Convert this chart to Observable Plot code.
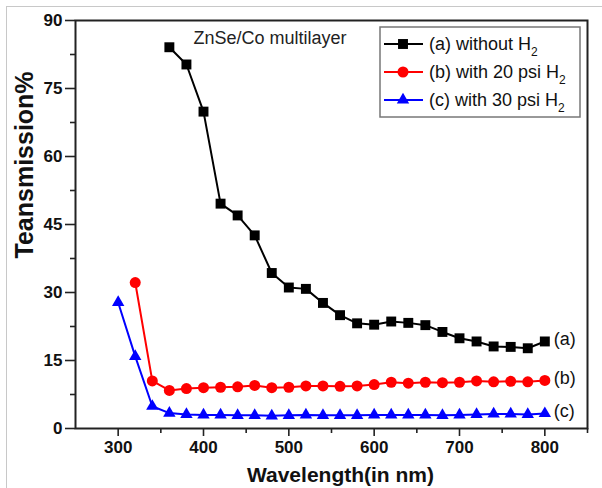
<!DOCTYPE html>
<html>
<head>
<meta charset="utf-8">
<script src="https://cdn.jsdelivr.net/npm/d3@7"></script>
<script src="https://cdn.jsdelivr.net/npm/@observablehq/plot@0.6"></script>
<style>
  body { margin: 0; background: #fff; }
  #wrap { position: relative; width: 602px; height: 488px; overflow: hidden; background: #fff; }
  #border { position: absolute; left: 6px; top: 6px; width: 620px; height: 520px; border-left: 1px solid #c8c8c8; border-top: 1px solid #c8c8c8; pointer-events: none; }
  #legend { position: absolute; left: 0; top: 0; pointer-events: none; }
</style>
</head>
<body>
<div id="wrap"><div id="border"></div></div>
<script>
// ---- data ----
const wavelengthA = [360,380,400,420,440,460,480,500,520,540,560,580,600,620,640,660,680,700,720,740,760,780,800];
const transA = [84.1,80.3,69.9,49.6,47.0,42.6,34.3,31.1,30.8,27.7,25.0,23.2,22.9,23.6,23.3,22.8,21.3,19.9,19.2,18.1,18.0,17.7,19.2];

const wavelengthB = [320,340,360,380,400,420,440,460,480,500,520,540,560,580,600,620,640,660,680,700,720,740,760,780,800];
const transB = [32.2,10.5,8.4,8.8,9.0,9.1,9.2,9.5,9.0,9.1,9.4,9.4,9.3,9.4,9.7,10.2,10.0,10.2,10.1,10.2,10.5,10.3,10.4,10.3,10.6];

const wavelengthC = [300,320,340,360,380,400,420,440,460,480,500,520,540,560,580,600,620,640,660,680,700,720,740,760,780,800];
const transC = [27.8,15.9,4.9,3.4,3.1,3.0,3.0,2.9,2.9,2.8,2.9,3.0,2.9,2.9,2.9,3.0,3.0,3.0,3.0,2.9,3.0,3.1,3.2,3.2,3.1,3.3];

const seriesNames = ["(a) without H", "(b) with 20 psi H", "(c) with 30 psi H"];
const endLabels = ["(a)", "(b)", "(c)"];
const seriesColors = ["#000000", "#ff0000", "#0000ff"];
const seriesSymbols = ["square", "circle", "triangle"];

const yTicks = [0, 15, 30, 45, 60, 75, 90];
const yMinorTicks = [7.5, 22.5, 37.5, 52.5, 67.5, 82.5];
const xTicks = [300, 400, 500, 600, 700, 800];
const xMinorTicks = [350, 450, 550, 650, 750, 850];

const titleText = "ZnSe/Co multilayer";
const xLabel = "Wavelength(in nm)";
const yLabel = "Teansmission%";

// ---- build tables ----
function mk(ws, vs, i) { return ws.map((w, j) => ({w, t: vs[j], s: i})); }
const A = mk(wavelengthA, transA, 0);
const B = mk(wavelengthB, transB, 1);
const C = mk(wavelengthC, transC, 2);
const ends = [A, B, C].map((arr, i) => ({...arr[arr.length - 1], label: endLabels[i]}));

const font = "'Liberation Sans', Arial, Helvetica, sans-serif";

function seriesMarks(data, i, r) {
  return [
    Plot.line(data, {x: "w", y: "t", stroke: seriesColors[i], strokeWidth: 2}),
    Plot.dot(data, {x: "w", y: "t", symbol: seriesSymbols[i], r, fill: seriesColors[i], stroke: "none"})
  ];
}

const chart = Plot.plot({
  width: 602,
  height: 488,
  marginLeft: 75,
  marginRight: 15,
  marginTop: 20,
  marginBottom: 60,
  style: {fontFamily: font, background: "transparent", color: "#111", overflow: "visible"},
  x: {domain: [250, 850]},
  y: {domain: [0, 90]},
  marks: [
    Plot.axisY({ticks: yTicks, tickSize: 10, tickPadding: 3, fontSize: 17, fontWeight: "bold", label: null, strokeWidth: 1.6, stroke: "#222"}),
    Plot.axisY({ticks: yMinorTicks, tickSize: 5, tickFormat: () => "", label: null, strokeWidth: 1.6, stroke: "#222"}),
    Plot.axisX({ticks: xTicks, tickSize: 8, tickPadding: 4, fontSize: 17, fontWeight: "bold", label: null, strokeWidth: 1.6, stroke: "#222"}),
    Plot.axisX({ticks: xMinorTicks, tickSize: 5, tickFormat: () => "", label: null, strokeWidth: 1.6, stroke: "#222"}),
    Plot.frame({stroke: "#222", strokeWidth: 2}),
    ...seriesMarks(A, 0, 5.6),
    ...seriesMarks(B, 1, 5.5),
    ...seriesMarks(C, 2, 4.6),
    Plot.text(ends, {x: "w", y: "t", text: "label", textAnchor: "start", dx: 9, dy: -2, fontSize: 18, fill: "#111"}),
    Plot.text([titleText], {frameAnchor: "top-left", dx: 118, dy: 18, lineAnchor: "middle", textAnchor: "start", fontSize: 18, fill: "#222"}),
    Plot.text([xLabel], {frameAnchor: "bottom", dx: 9, dy: 47, lineAnchor: "middle", fontSize: 21, fontWeight: "bold", fill: "#111"}),
    Plot.text([yLabel], {frameAnchor: "left", dx: -51, dy: 34, rotate: -90, lineAnchor: "middle", fontSize: 25, fontWeight: "bold", fill: "#111"})
  ]
});
document.getElementById("wrap").appendChild(chart);

// ---- legend overlay ----
const ns = "http://www.w3.org/2000/svg";
const lg = d3.select("#wrap").append("svg").attr("id", "legend").attr("width", 602).attr("height", 488)
  .attr("xmlns", ns).style("font-family", font);
lg.append("rect").attr("x", 380).attr("y", 27).attr("width", 200).attr("height", 90)
  .attr("fill", "white").attr("stroke", "#777").attr("stroke-width", 1.5);
const rowY = [44, 72, 100];
seriesNames.forEach((name, i) => {
  const y = rowY[i];
  lg.append("line").attr("x1", 384).attr("x2", 423).attr("y1", y).attr("y2", y)
    .attr("stroke", seriesColors[i]).attr("stroke-width", 2);
  const sym = {square: d3.symbolSquare, circle: d3.symbolCircle, triangle: d3.symbolTriangle}[seriesSymbols[i]];
  const r = [5.6, 5.5, 4.6][i];
  lg.append("path").attr("d", d3.symbol(sym, Math.PI * r * r)()).attr("transform", `translate(403,${y})`)
    .attr("fill", seriesColors[i]);
  const t = lg.append("text").attr("x", 429).attr("y", y).attr("dy", "0.35em").attr("font-size", 18).attr("fill", "#111");
  t.append("tspan").text(name);
  t.append("tspan").attr("font-size", 12).attr("dy", 6).text("2");
});
</script>
</body>
</html>
